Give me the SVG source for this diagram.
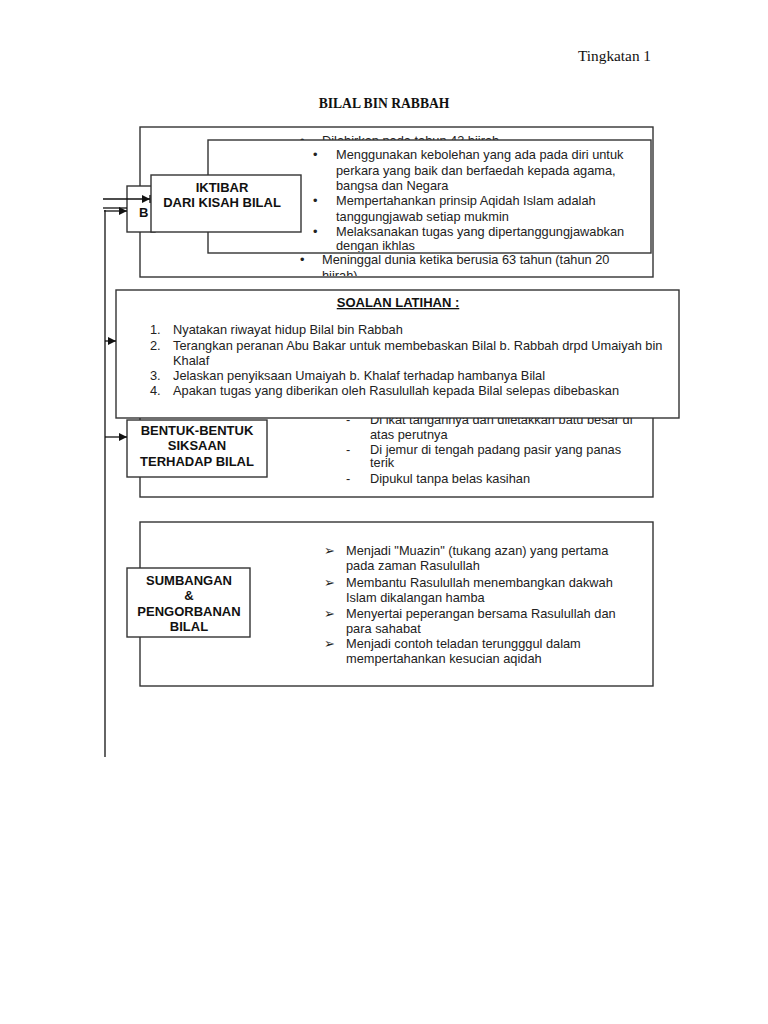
<svg xmlns="http://www.w3.org/2000/svg" width="768" height="1024" viewBox="0 0 768 1024">
<style>
.box{fill:#fff;stroke:#333;stroke-width:1.4}
.t{font-family:"Liberation Sans",Arial,sans-serif;font-size:12.8px;fill:#222}
.b{font-family:"Liberation Sans",Arial,sans-serif;font-size:13px;font-weight:bold;fill:#111}
.s{font-family:"Liberation Serif","Times New Roman",serif;fill:#111}
.ln{stroke:#111;stroke-width:1.3;fill:none}
</style>
<defs>
<marker id="ah" viewBox="0 0 10 10" refX="10" refY="5" markerWidth="8" markerHeight="8" markerUnits="userSpaceOnUse" orient="auto"><path d="M0,0 L10,5 L0,10 z" fill="#111"/></marker>
<clipPath id="c1"><rect x="141" y="128" width="511" height="148"/></clipPath>
<clipPath id="c2"><rect x="209" y="141" width="441" height="111"/></clipPath>
<clipPath id="c3"><rect x="141" y="400" width="511" height="96"/></clipPath>
</defs>
<rect width="768" height="1024" fill="#fff"/>
<text class="s" x="651" y="61" font-size="15.3" text-anchor="end">Tingkatan 1</text>
<text class="s" x="384" y="108" font-size="13.6" font-weight="bold" text-anchor="middle">BILAL BIN RABBAH</text>

<g id="biodata">
<rect class="box" x="140" y="127" width="513" height="150"/>
<g clip-path="url(#c1)">
<text class="t" x="300" y="145">•</text>
<text class="t" x="322" y="145">Dilahirkan pada tahun 43 hijrah</text>
<text class="t" x="300" y="264">•</text>
<text class="t" x="322" y="264">Meninggal dunia ketika berusia 63 tahun (tahun 20</text>
<text class="t" x="322" y="280">hijrah)</text>
</g>
</g>

<g id="node-b">
<rect class="box" x="127" y="186" width="28" height="46"/>
<text class="b" x="139" y="217">B</text>
</g>

<g id="iktibar-list">
<rect class="box" x="208" y="140" width="443" height="113"/>
<g clip-path="url(#c2)">
<text class="t" x="313" y="159">•</text>
<text class="t" x="336" y="159">Menggunakan kebolehan yang ada pada diri untuk</text>
<text class="t" x="336" y="175">perkara yang baik dan berfaedah kepada agama,</text>
<text class="t" x="336" y="190">bangsa dan Negara</text>
<text class="t" x="313" y="205">•</text>
<text class="t" x="336" y="205">Mempertahankan prinsip Aqidah Islam adalah</text>
<text class="t" x="336" y="221">tanggungjawab setiap mukmin</text>
<text class="t" x="313" y="236">•</text>
<text class="t" x="336" y="236">Melaksanakan tugas yang dipertanggungjawabkan</text>
<text class="t" x="336" y="250">dengan ikhlas</text>
</g>
</g>

<g id="iktibar">
<rect class="box" x="151" y="175" width="150" height="57"/>
<text class="b" x="222" y="192" text-anchor="middle">IKTIBAR</text>
<text class="b" x="222" y="207" text-anchor="middle">DARI KISAH BILAL</text>
</g>

<g id="bentuk-panel">
<rect class="box" x="140" y="400" width="513" height="97"/>
<g clip-path="url(#c3)">
<text class="t" x="346" y="424">-</text>
<text class="t" x="370" y="424">Di ikat tangannya dan  diletakkan batu besar di</text>
<text class="t" x="370" y="439">atas perutnya</text>
<text class="t" x="346" y="454">-</text>
<text class="t" x="370" y="454">Di jemur di tengah padang pasir yang panas</text>
<text class="t" x="370" y="467">terik</text>
<text class="t" x="346" y="483">-</text>
<text class="t" x="370" y="483">Dipukul tanpa belas kasihan</text>
</g>
</g>

<g id="bentuk">
<rect class="box" x="127" y="420" width="140" height="57"/>
<text class="b" x="197" y="435" text-anchor="middle">BENTUK-BENTUK</text>
<text class="b" x="197" y="450" text-anchor="middle">SIKSAAN</text>
<text class="b" x="197" y="466" text-anchor="middle">TERHADAP  BILAL</text>
</g>

<g id="soalan">
<rect class="box" x="116" y="290" width="563" height="128"/>
<text class="b" x="398" y="307" text-anchor="middle" text-decoration="underline">SOALAN LATIHAN :</text>
<text class="t" x="150" y="334">1.</text>
<text class="t" x="173" y="334">Nyatakan riwayat hidup Bilal bin Rabbah</text>
<text class="t" x="150" y="350">2.</text>
<text class="t" x="173" y="350">Terangkan peranan Abu Bakar untuk membebaskan Bilal b. Rabbah drpd Umaiyah bin</text>
<text class="t" x="173" y="365">Khalaf</text>
<text class="t" x="150" y="380">3.</text>
<text class="t" x="173" y="380">Jelaskan penyiksaan Umaiyah b. Khalaf terhadap hambanya Bilal</text>
<text class="t" x="150" y="395">4.</text>
<text class="t" x="173" y="395">Apakan tugas yang diberikan oleh Rasulullah kepada Bilal selepas dibebaskan</text>
</g>

<g id="sumbangan-panel">
<rect class="box" x="140" y="522" width="513" height="164"/>
<text class="t" x="324" y="555">➢</text>
<text class="t" x="346" y="555">Menjadi "Muazin" (tukang azan)  yang pertama</text>
<text class="t" x="346" y="570">pada zaman Rasulullah</text>
<text class="t" x="324" y="587">➢</text>
<text class="t" x="346" y="587">Membantu Rasulullah menembangkan dakwah</text>
<text class="t" x="346" y="602">Islam dikalangan hamba</text>
<text class="t" x="324" y="618">➢</text>
<text class="t" x="346" y="618">Menyertai peperangan bersama Rasulullah dan</text>
<text class="t" x="346" y="633">para sahabat</text>
<text class="t" x="324" y="648">➢</text>
<text class="t" x="346" y="648">Menjadi contoh teladan terungggul dalam</text>
<text class="t" x="346" y="663">mempertahankan kesucian aqidah</text>
</g>

<g id="sumbangan">
<rect class="box" x="127" y="568" width="123" height="69"/>
<text class="b" x="189" y="585" text-anchor="middle">SUMBANGAN</text>
<text class="b" x="189" y="600" text-anchor="middle">&amp;</text>
<text class="b" x="189" y="616" text-anchor="middle">PENGORBANAN</text>
<text class="b" x="189" y="631" text-anchor="middle">BILAL</text>
</g>

<g id="connectors">
<line class="ln" x1="105" y1="210" x2="105" y2="757"/>
<line class="ln" x1="103" y1="199" x2="150" y2="199" marker-end="url(#ah)"/>
<line class="ln" x1="150" y1="195" x2="150" y2="203"/>
<line class="ln" x1="103" y1="208" x2="127" y2="208"/>
<line class="ln" x1="104" y1="211" x2="127" y2="211" marker-end="url(#ah)"/>
<line class="ln" x1="105" y1="341" x2="116" y2="341" marker-end="url(#ah)"/>
<line class="ln" x1="105" y1="437" x2="127" y2="437" marker-end="url(#ah)"/>
</g>
</svg>
